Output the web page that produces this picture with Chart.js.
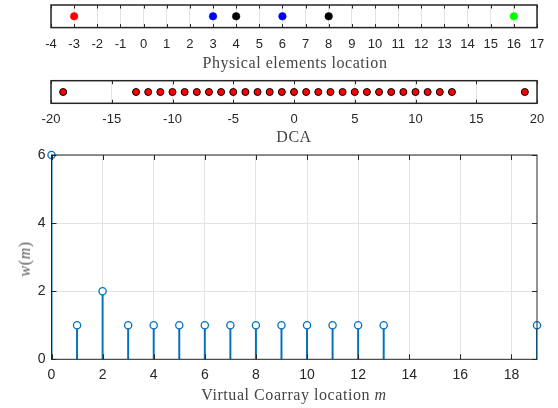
<!DOCTYPE html>
<html>
<head>
<meta charset="utf-8">
<script src="https://cdn.jsdelivr.net/npm/chart.js@4"></script>
<style>
  html, body { margin: 0; padding: 0; background: #fff; }
  #wrap { position: relative; width: 558px; height: 408px; overflow: hidden; }
  #wrap canvas { position: absolute; left: 0; }
  .lbl { position: absolute; transform: translate(-50%, -50%); font-family: "Liberation Serif", serif;
         font-size: 16px; letter-spacing: 0.55px; color: #454545; white-space: nowrap; line-height: 1; }
</style>
</head>
<body>
<div id="wrap">
  <canvas id="phys" width="558" height="70" style="top:0px"></canvas>
  <canvas id="dca" width="558" height="75" style="top:70px"></canvas>
  <canvas id="wm" width="558" height="268" style="top:140px"></canvas>
  <div class="lbl" style="left:295px;top:63px">Physical elements location</div>
  <div class="lbl" style="left:294px;top:137px">DCA</div>
  <div class="lbl" style="left:294px;top:395px">Virtual Coarray location <i>m</i></div>
  <div class="lbl" style="left:25px;top:259px;color:#5a5a5a;transform:translate(-50%,-50%) rotate(-90deg)"><i>w</i>(<i>m</i>)</div>
</div>
<script>
// Sensor positions of the physical array, grouped by subarray
const refSensor = [-3];
const subarrayA = [3, 6];
const subarrayB = [4, 8];
const extraSensor = [16];
const physRange = [-4, 17];

// Difference coarray lags
const dcaLags = [-19, -13, -12, -11, -10, -9, -8, -7, -6, -5, -4, -3, -2, -1, 0,
                 1, 2, 3, 4, 5, 6, 7, 8, 9, 10, 11, 12, 13, 19];
const dcaRange = [-20, 20];

// Weight function w(m) for non-negative lags
const coarrayLags = [0, 1, 2, 3, 4, 5, 6, 7, 8, 9, 10, 11, 12, 13, 19];
const weights     = [6, 1, 2, 1, 1, 1, 1, 1, 1, 1, 1, 1, 1, 1, 1];
const lagRange = [0, 19];
const weightRange = [0, 6];

const AX = '#262626';
const GRID = '#e3e3e3';
const SANS = '"Liberation Sans", Arial, sans-serif';

// Axes box with inward ticks on all sides
const frameTicks = {
  id: 'frameTicks',
  afterDraw(chart, args, o) {
    const { ctx, chartArea: a, scales } = chart;
    ctx.save();
    ctx.strokeStyle = AX;
    ctx.lineWidth = o.tickWidth || 1;
    ctx.beginPath();
    const xs = scales.x;
    xs.ticks.forEach((t, i) => {
      const px = Math.round(xs.getPixelForTick(i)) + 0.5;
      ctx.moveTo(px, a.bottom); ctx.lineTo(px, a.bottom - o.len);
      ctx.moveTo(px, a.top);    ctx.lineTo(px, a.top + o.len);
    });
    if (o.yTicks) {
      const ys = scales.y;
      ys.ticks.forEach((t, i) => {
        const py = Math.round(ys.getPixelForTick(i)) + 0.5;
        ctx.moveTo(a.left, py);  ctx.lineTo(a.left + o.len, py);
        ctx.moveTo(a.right, py); ctx.lineTo(a.right - o.len, py);
      });
    }
    ctx.stroke();
    ctx.lineWidth = o.borderWidth;
    ctx.strokeRect(a.left, a.top, a.width, a.height);
    ctx.restore();
  }
};

function stripXAxis(range, step, pad) {
  return {
    type: 'linear', min: range[0], max: range[1],
    grid: { color: GRID, lineWidth: 1, drawTicks: false },
    border: { display: false },
    ticks: { stepSize: step, padding: pad, color: AX, font: { family: SANS, size: 13 },
             maxRotation: 0, autoSkip: false },
    afterFit(scale) { scale.height = 22; }
  };
}

const pts = arr => arr.map(v => ({ x: v, y: 0.5 }));
const common = {
  responsive: false,
  animation: false,
  events: [],
  plugins: { legend: { display: false }, tooltip: { enabled: false } }
};

// Physical array strip
new Chart(document.getElementById('phys'), {
  type: 'scatter',
  data: {
    datasets: [
      { data: pts(refSensor),   backgroundColor: '#ff0000', borderColor: '#ff0000' },
      { data: pts(subarrayA),   backgroundColor: '#0000ff', borderColor: '#0000ff' },
      { data: pts(subarrayB),   backgroundColor: '#000000', borderColor: '#000000' },
      { data: pts(extraSensor), backgroundColor: '#00ff00', borderColor: '#00ff00' }
    ].map(d => Object.assign(d, { pointRadius: 3.8, pointBorderWidth: 0.5 }))
  },
  options: Object.assign({}, common, {
    layout: { padding: { left: 51, right: 21, top: 5, bottom: 20.4 } },
    scales: {
      x: stripXAxis(physRange, 1, 8.6),
      y: { display: false, min: 0, max: 1 }
    },
    plugins: Object.assign({}, common.plugins, { frameTicks: { len: 3.5, borderWidth: 1.5, tickWidth: 1 } })
  }),
  plugins: [frameTicks]
});

// Difference coarray strip
new Chart(document.getElementById('dca'), {
  type: 'scatter',
  data: {
    datasets: [{
      data: pts(dcaLags), pointRadius: 3.5, pointBorderWidth: 1,
      backgroundColor: '#ff0000', borderColor: '#000000'
    }]
  },
  options: Object.assign({}, common, {
    layout: { padding: { left: 51, right: 21, top: 10.7, bottom: 19.7 } },
    scales: {
      x: stripXAxis(dcaRange, 5, 8.8),
      y: { display: false, min: 0, max: 1 }
    },
    plugins: Object.assign({}, common.plugins, { frameTicks: { len: 3.5, borderWidth: 1.5, tickWidth: 1 } })
  }),
  plugins: [frameTicks]
});

// Coarray weight function stem plot
const stemData = coarrayLags.map((m, i) => ({ x: m, y: weights[i] }));
new Chart(document.getElementById('wm'), {
  type: 'scatter',
  data: {
    datasets: [
      { type: 'bar', data: stemData, backgroundColor: '#0072BD', borderWidth: 0,
        barThickness: 1.3, order: 2 },
      { type: 'scatter', data: stemData, pointRadius: 3.6, pointBorderWidth: 1.3,
        borderColor: '#0072BD', backgroundColor: '#ffffff', clip: false, order: 1 }
    ]
  },
  options: Object.assign({}, common, {
    layout: { padding: { left: 0, right: 21, top: 15, bottom: 28.7 } },
    scales: {
      x: {
        type: 'linear', min: lagRange[0], max: lagRange[1], offset: false,
        grid: { color: GRID, drawTicks: false, offset: false },
        border: { display: false },
        ticks: { stepSize: 2, includeBounds: false, padding: 7.8, color: AX,
                 font: { family: SANS, size: 14 }, maxRotation: 0 },
        afterFit(scale) { scale.height = 20; }
      },
      y: {
        type: 'linear', min: weightRange[0], max: weightRange[1],
        grid: { color: GRID, drawTicks: false },
        border: { display: false },
        ticks: { stepSize: 2, padding: 6, color: AX, font: { family: SANS, size: 14 } },
        afterFit(scale) { scale.width = 51.5; }
      }
    },
    plugins: Object.assign({}, common.plugins, { frameTicks: { len: 5, borderWidth: 1, tickWidth: 1, yTicks: true } })
  }),
  plugins: [frameTicks]
});
</script>
</body>
</html>
